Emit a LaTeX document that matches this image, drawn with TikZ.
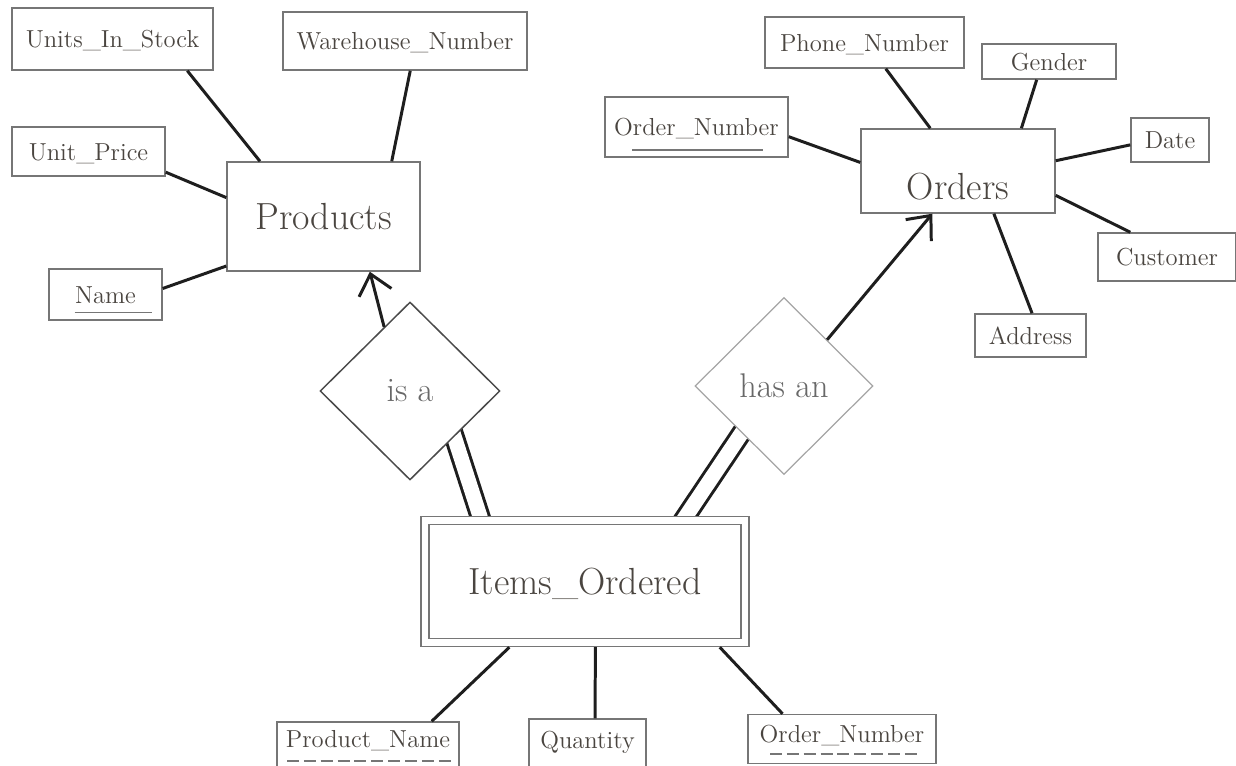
\documentclass[tikz,border=0pt]{standalone}
\usepackage{xcolor}
\usepackage{tikz}
\usetikzlibrary{shapes.geometric,arrows.meta,calc,backgrounds}
\definecolor{inkgray}{HTML}{4A4540}
\definecolor{edgegray}{HTML}{767676}
\definecolor{linegray}{HTML}{1E1E1E}
\definecolor{relgray}{HTML}{686868}
\definecolor{isagray}{HTML}{4A4A4A}
\definecolor{hasgray}{HTML}{A5A5A5}

\begin{document}
\begin{tikzpicture}[x=0.02cm,y=-0.02cm,>={Straight Barb[length=11pt,width=19pt]}]
\tikzstyle{attr}=[rectangle,draw=edgegray,fill=white,line width=0.85pt,text=inkgray,font=\fontsize{14}{16}\selectfont,inner sep=0pt,text height=10pt,text depth=0pt]
\tikzstyle{entity}=[attr,font=\fontsize{21.5}{24}\selectfont,text height=15pt]
\tikzstyle{rel}=[diamond,draw,fill=white,line width=0.85pt,text=relgray,inner sep=0pt,font=\fontsize{19.5}{22}\selectfont]
\tikzstyle{link}=[draw=linegray,line width=1.7pt]
\tikzstyle{total}=[link,double,double distance=8.5pt,shorten <=-8pt,shorten >=-8pt]
\tikzstyle{keyline}=[draw=edgegray,line width=1.1pt]
\tikzstyle{partkey}=[keyline,dash pattern=on 6.8pt off 2.8pt]

\useasboundingbox (0,0) rectangle (1236,766);
\clip (0,0) rectangle (1236,766);

\node[entity,minimum width=3.86cm,minimum height=2.18cm] (prod) at (323.5,216.5) {Products};
\node[attr,minimum width=4.02cm,minimum height=1.24cm] (uis) at (112.5,39) {Units\_In\_Stock};
\node[attr,minimum width=4.88cm,minimum height=1.16cm] (whn) at (405,41) {Warehouse\_Number};
\node[attr,minimum width=3.06cm,minimum height=0.98cm] (upr) at (88.5,151.5) {Unit\_Price};
\node[attr,minimum width=2.26cm,minimum height=1.02cm] (pnm) at (105.5,294.5) {Name};

\node[entity,minimum width=3.88cm,minimum height=1.68cm,text height=33pt] (ord) at (958,171) {Orders};
\node[attr,minimum width=3.66cm,minimum height=1.2cm] (onk) at (696.5,127) {Order\_Number};
\node[attr,minimum width=3.98cm,minimum height=1.02cm] (phn) at (864.5,42.5) {Phone\_Number};
\node[attr,minimum width=2.68cm,minimum height=0.7cm] (gen) at (1049,61.5) {Gender};
\node[attr,minimum width=1.56cm,minimum height=0.88cm] (dat) at (1170,140) {Date};
\node[attr,minimum width=2.76cm,minimum height=0.96cm] (cus) at (1167,257) {Customer};
\node[attr,minimum width=2.22cm,minimum height=0.86cm] (adr) at (1030.5,335.5) {Address};

\node[rel,draw=isagray,minimum width=3.6cm,minimum height=3.56cm] (isa) at (410,391) {is a};
\node[rel,draw=hasgray,line width=0.7pt,minimum width=3.56cm,minimum height=3.54cm] (has) at (784,386) {has an};

\node[entity,double,double distance=3.7pt,outer sep=2.7pt,minimum width=6.41cm,minimum height=2.44cm] (itm) at (585,581.5) {Items\_Ordered};
\node[attr,minimum width=3.64cm,minimum height=1.0cm,text depth=10pt] (pdn) at (368,747) {Product\_Name};
\node[attr,minimum width=2.34cm,minimum height=1.02cm,text depth=6pt] (qty) at (587.5,744.5) {Quantity};
\node[attr,minimum width=3.76cm,minimum height=0.98cm,text depth=6pt] (onb) at (842,739) {Order\_Number};

\draw[keyline] ($(pnm.center)+(-31,18)$) -- ($(pnm.center)+(46,18)$);
\draw[keyline] ($(onk.center)+(-64.5,23)$) -- ($(onk.center)+(66.5,23)$);
\draw[partkey] ($(pdn.center)+(-81,14)$) -- ($(pdn.center)+(85,14)$);
\draw[partkey] ($(onb.center)+(-72,15)$) -- ($(onb.center)+(78,15)$);

\draw[link] (uis.-23) -- (prod.139);
\draw[link] (whn.-80) -- (prod.39);
\draw[link] (upr.-15) -- (prod.169);
\draw[link] (pnm.6) -- (prod.207);

\draw[link] (onk.-6) -- (ord.175);
\draw[link] (phn.-51) -- (ord.123);
\draw[link] (gen.-124) -- (ord.34);
\draw[link] (dat.187) -- (ord.6);
\draw[link] (cus.146) -- (ord.-14.5);
\draw[link] (adr.86) -- (ord.-50);

\draw[link,->] (isa.112) -- (prod.-50);
\draw[link,->] (has.47) -- (ord.239);
\begin{scope}[on background layer]
\draw[total] (itm.148) -- (isa.-46);
\draw[total] (itm.33) -- (has.228);
\end{scope}

\draw[link] (pdn.22) -- (itm.221);
\draw[link] (qty.74) -- (itm.-81);
\draw[link] (onb.157) -- (itm.-26);
\end{tikzpicture}
\end{document}
